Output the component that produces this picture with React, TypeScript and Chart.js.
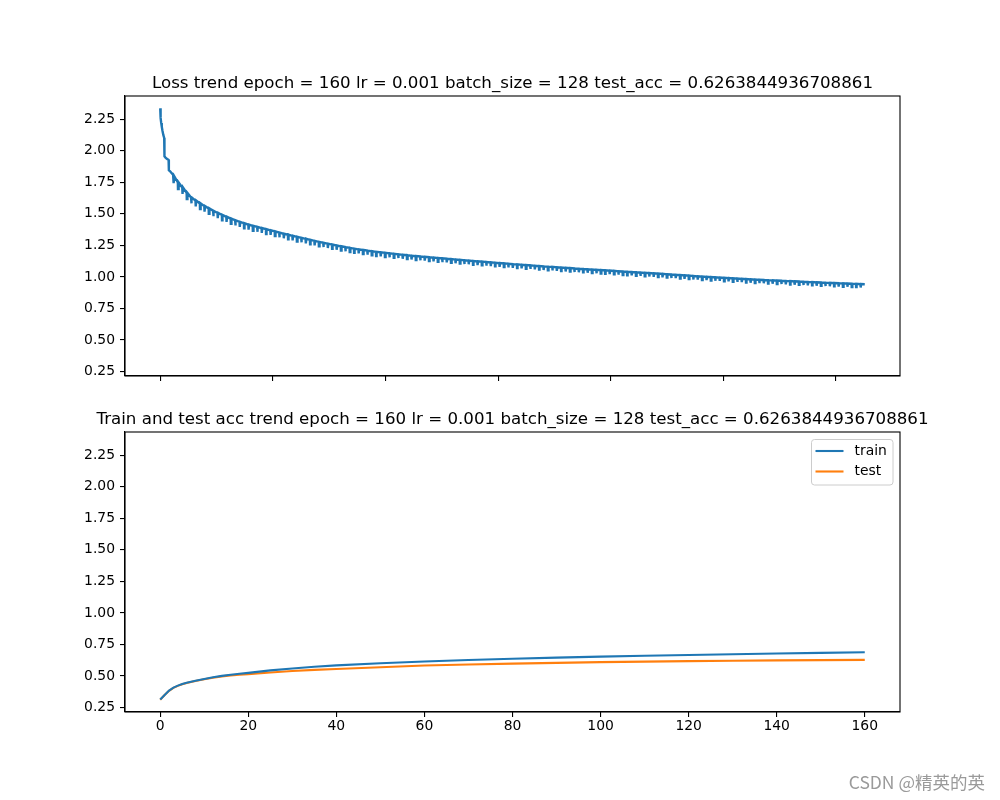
import React, { useEffect, useRef } from "react";
import { Chart, registerables } from "chart.js";

Chart.register(...registerables);

const FONT = "'DejaVu Sans', sans-serif";
const BLUE = "#1f77b4";
const ORANGE = "#ff7f0e";

const titleSuffix = "epoch = 160 lr = 0.001 batch_size = 128 test_acc = 0.6263844936708861";
const lossTitle = "Loss trend " + titleSuffix;
const accTitle = "Train and test acc trend " + titleSuffix;

const batchesPerEpoch = 391;
const totalEpochs = 160;

// first epochs (running-average staircase), x in epochs
const warmupEpochs = [0, 0.05, 0.12, 0.22, 0.35, 0.5, 0.7, 0.9, 0.96, 1.2, 1.5, 1.9, 1.96, 2.3, 2.6, 2.92];
const warmupLoss = [2.335, 2.3, 2.26, 2.22, 2.19, 2.16, 2.125, 2.1, 1.955, 1.945, 1.935, 1.926, 1.845, 1.835, 1.822, 1.81];

// loss level at each epoch boundary, epochs 3..160
const lossFirstEpoch = 3;
const lossLevel = [
  1.798, 1.748, 1.708, 1.665, 1.63, 1.604, 1.582,
  1.561, 1.542, 1.524, 1.507, 1.491, 1.476, 1.462, 1.449, 1.436, 1.425,
  1.415, 1.405, 1.396, 1.387, 1.378, 1.369, 1.36, 1.351, 1.342, 1.334,
  1.325, 1.317, 1.309, 1.301, 1.293, 1.285, 1.277, 1.27, 1.263, 1.256,
  1.249, 1.242, 1.236, 1.23, 1.224, 1.218, 1.213, 1.208, 1.203, 1.198,
  1.194, 1.19, 1.186, 1.182, 1.179, 1.175, 1.172, 1.168, 1.165, 1.162,
  1.159, 1.156, 1.153, 1.15, 1.147, 1.144, 1.141, 1.138, 1.135, 1.132,
  1.129, 1.126, 1.123, 1.121, 1.118, 1.115, 1.112, 1.109, 1.107, 1.104,
  1.101, 1.099, 1.096, 1.093, 1.091, 1.088, 1.086, 1.083, 1.081, 1.079,
  1.076, 1.074, 1.072, 1.07, 1.067, 1.065, 1.063, 1.061, 1.058, 1.056,
  1.054, 1.052, 1.05, 1.048, 1.045, 1.043, 1.041, 1.039, 1.037, 1.035,
  1.032, 1.03, 1.028, 1.026, 1.024, 1.021, 1.019, 1.017, 1.014, 1.012,
  1.01, 1.007, 1.005, 1.003, 1.001, 0.999, 0.997, 0.995, 0.993, 0.991,
  0.989, 0.987, 0.985, 0.983, 0.981, 0.979, 0.977, 0.976, 0.974, 0.973,
  0.971, 0.97, 0.968, 0.967, 0.965, 0.964, 0.962, 0.96, 0.959, 0.957,
  0.956, 0.954, 0.953, 0.951, 0.95, 0.949, 0.947, 0.946, 0.945, 0.943,
  0.942,
];

// depth of the short dip at the start of each epoch, epochs 3..159
const lossDipDepth = [
  0.055, 0.052, 0.05, 0.049, 0.047, 0.046, 0.045,
  0.044, 0.043, 0.043, 0.042, 0.042, 0.041, 0.041, 0.041, 0.04, 0.04,
  0.04, 0.039, 0.039, 0.038, 0.038, 0.037, 0.037, 0.037, 0.036, 0.036,
  0.036, 0.036, 0.035, 0.035, 0.035, 0.035, 0.034, 0.034, 0.034, 0.034,
  0.034, 0.033, 0.033, 0.033, 0.033, 0.032, 0.032, 0.032, 0.032, 0.032,
  0.031, 0.032, 0.031, 0.031, 0.03, 0.031, 0.031, 0.03, 0.031, 0.03,
  0.03, 0.031, 0.03, 0.03, 0.03, 0.029, 0.03, 0.03, 0.029, 0.03,
  0.029, 0.03, 0.029, 0.029, 0.029, 0.03, 0.029, 0.029, 0.028, 0.029,
  0.029, 0.028, 0.029, 0.029, 0.028, 0.029, 0.028, 0.028, 0.029, 0.028,
  0.028, 0.028, 0.029, 0.028, 0.028, 0.028, 0.027, 0.028, 0.028, 0.028,
  0.028, 0.027, 0.028, 0.028, 0.027, 0.028, 0.028, 0.027, 0.028, 0.027,
  0.028, 0.027, 0.027, 0.028, 0.027, 0.027, 0.028, 0.027, 0.027, 0.027,
  0.027, 0.028, 0.027, 0.027, 0.027, 0.027, 0.028, 0.027, 0.027, 0.027,
  0.027, 0.027, 0.026, 0.027, 0.027, 0.027, 0.027, 0.026, 0.027, 0.027,
  0.027, 0.026, 0.027, 0.027, 0.027, 0.026, 0.027, 0.027, 0.026, 0.027,
  0.027, 0.026, 0.027, 0.026, 0.027, 0.027, 0.026, 0.027, 0.026, 0.027,
];

const accEpochs = [0, 1, 2, 3, 4, 5, 6, 8, 10, 12, 14, 16, 18, 20, 25, 30, 35, 40, 50, 60, 70, 80, 90, 100, 110, 120, 130, 140, 150, 160];
const trainAcc = [0.314, 0.35, 0.385, 0.408, 0.424, 0.437, 0.447, 0.463, 0.477, 0.49, 0.501, 0.51, 0.518, 0.525, 0.545, 0.56, 0.573, 0.584, 0.601, 0.615, 0.627, 0.637, 0.646, 0.654, 0.661, 0.667, 0.673, 0.678, 0.683, 0.688];
const testAcc = [0.312, 0.349, 0.383, 0.406, 0.422, 0.435, 0.445, 0.461, 0.475, 0.487, 0.497, 0.505, 0.51, 0.515, 0.528, 0.54, 0.549, 0.556, 0.569, 0.583, 0.591, 0.598, 0.604, 0.61, 0.614, 0.618, 0.621, 0.624, 0.626, 0.628];

const yTickValues = [0.25, 0.5, 0.75, 1.0, 1.25, 1.5, 1.75, 2.0, 2.25];
const topXTickValues = [0, 10000, 20000, 30000, 40000, 50000, 60000];
const bottomXTickValues = [0, 20, 40, 60, 80, 100, 120, 140, 160];

const Y_MIN = 0.215;
const Y_MAX = 2.433;

function buildLossPoints() {
  const pts: { x: number; y: number }[] = [];
  warmupEpochs.forEach((e, i) => pts.push({ x: e * batchesPerEpoch, y: warmupLoss[i] }));
  lossLevel.forEach((v, i) => {
    const ep = lossFirstEpoch + i;
    pts.push({ x: ep * batchesPerEpoch, y: v });
    if (i < lossDipDepth.length) {
      const low = v - lossDipDepth[i];
      pts.push({ x: (ep + 0.03) * batchesPerEpoch, y: low });
      pts.push({ x: (ep + 0.1) * batchesPerEpoch, y: low });
      pts.push({ x: (ep + 0.18) * batchesPerEpoch, y: v });
    }
  });
  return pts;
}

function framePlugin(title: string, extra?: (chart: any) => void) {
  return {
    id: "frameTitle",
    afterDraw(chart: any) {
      const { ctx, chartArea: a } = chart;
      ctx.save();
      ctx.strokeStyle = "#000";
      ctx.lineWidth = 1.1;
      ctx.strokeRect(a.left, a.top, a.right - a.left, a.bottom - a.top);
      ctx.fillStyle = "#000";
      ctx.font = `16.67px ${FONT}`;
      ctx.textAlign = "center";
      ctx.textBaseline = "alphabetic";
      ctx.fillText(title, (a.left + a.right) / 2, a.top - 8.3);
      ctx.restore();
      if (extra) extra(chart);
    },
  };
}

function yScale() {
  return {
    type: "linear" as const,
    min: Y_MIN,
    max: Y_MAX,
    afterBuildTicks: (s: any) => {
      s.ticks = yTickValues.map((v) => ({ value: v }));
    },
    afterFit: (s: any) => {
      s.width = 125;
    },
    ticks: {
      callback: (v: any) => Number(v).toFixed(2),
      font: { family: FONT, size: 13.9 },
      color: "#000",
      padding: 5,
    },
    grid: { display: true, drawOnChartArea: false, drawTicks: true, tickLength: 5, color: "#000", lineWidth: 1.1 },
    border: { display: true, color: "#000", width: 1.1 },
  };
}

export default function App() {
  const topRef = useRef<HTMLCanvasElement>(null);
  const botRef = useRef<HTMLCanvasElement>(null);

  useEffect(() => {
    const nLast = totalEpochs * batchesPerEpoch;
    const topChart = new Chart(topRef.current!, {
      type: "line",
      data: {
        datasets: [
          {
            data: buildLossPoints(),
            borderColor: BLUE,
            borderWidth: 2.4,
            pointRadius: 0,
            tension: 0,
            fill: false,
          },
        ],
      },
      options: {
        animation: false,
        responsive: false,
        maintainAspectRatio: false,
        layout: { padding: { left: 0, right: 100, top: 96, bottom: 0 } },
        plugins: { legend: { display: false }, tooltip: { enabled: false }, title: { display: false } },
        scales: {
          x: {
            type: "linear",
            min: -0.05 * nLast,
            max: 1.05 * nLast,
            afterBuildTicks: (s: any) => {
              s.ticks = topXTickValues.map((v) => ({ value: v }));
            },
            afterFit: (s: any) => {
              s.height = 24;
            },
            ticks: { callback: () => "", font: { family: FONT, size: 13.9 } },
            grid: { display: true, drawOnChartArea: false, drawTicks: true, tickLength: 5, color: "#000", lineWidth: 1.1 },
            border: { display: true, color: "#000", width: 1.1 },
          },
          y: yScale(),
        },
      },
      plugins: [framePlugin(lossTitle)],
    } as any);

    const legendAndMark = (chart: any) => {
      const ctx = chart.ctx;
      const off = 400;
      ctx.save();
      const bx = 811.5, by = 439.5 - off, bw = 81.5, bh = 45.5, r = 3;
      ctx.beginPath();
      ctx.moveTo(bx + r, by);
      ctx.lineTo(bx + bw - r, by);
      ctx.quadraticCurveTo(bx + bw, by, bx + bw, by + r);
      ctx.lineTo(bx + bw, by + bh - r);
      ctx.quadraticCurveTo(bx + bw, by + bh, bx + bw - r, by + bh);
      ctx.lineTo(bx + r, by + bh);
      ctx.quadraticCurveTo(bx, by + bh, bx, by + bh - r);
      ctx.lineTo(bx, by + r);
      ctx.quadraticCurveTo(bx, by, bx + r, by);
      ctx.closePath();
      ctx.fillStyle = "rgba(255,255,255,0.8)";
      ctx.fill();
      ctx.strokeStyle = "#cccccc";
      ctx.lineWidth = 1;
      ctx.stroke();
      const items = [
        { label: "train", color: BLUE, y: 451 - off },
        { label: "test", color: ORANGE, y: 471.5 - off },
      ];
      ctx.font = `13.9px ${FONT}`;
      ctx.textAlign = "left";
      ctx.textBaseline = "middle";
      items.forEach((it) => {
        ctx.strokeStyle = it.color;
        ctx.lineWidth = 2.1;
        ctx.beginPath();
        ctx.moveTo(815.5, it.y);
        ctx.lineTo(843.5, it.y);
        ctx.stroke();
        ctx.fillStyle = "#000";
        ctx.fillText(it.label, 854.5, it.y);
      });
      ctx.font = `17.5px 'Noto Sans CJK SC', sans-serif`;
      ctx.fillStyle = "#9a9a9a";
      ctx.textAlign = "right";
      ctx.textBaseline = "middle";
      ctx.fillText("CSDN @精英的英", 985, 782 - off);
      ctx.restore();
    };

    const botChart = new Chart(botRef.current!, {
      type: "line",
      data: {
        datasets: [
          {
            label: "train",
            data: accEpochs.map((e, i) => ({ x: e, y: trainAcc[i] })),
            borderColor: BLUE,
            borderWidth: 2.1,
            pointRadius: 0,
            tension: 0,
            fill: false,
          },
          {
            label: "test",
            data: accEpochs.map((e, i) => ({ x: e, y: testAcc[i] })),
            borderColor: ORANGE,
            borderWidth: 2.1,
            pointRadius: 0,
            tension: 0,
            fill: false,
          },
        ],
      },
      options: {
        animation: false,
        responsive: false,
        maintainAspectRatio: false,
        layout: { padding: { left: 0, right: 100, top: 32, bottom: 0 } },
        plugins: { legend: { display: false }, tooltip: { enabled: false }, title: { display: false } },
        scales: {
          x: {
            type: "linear",
            min: -8,
            max: 168,
            afterBuildTicks: (s: any) => {
              s.ticks = bottomXTickValues.map((v) => ({ value: v }));
            },
            afterFit: (s: any) => {
              s.height = 88;
            },
            ticks: {
              callback: (v: any) => String(v),
              font: { family: FONT, size: 13.9 },
              color: "#000",
              padding: 1,
              maxRotation: 0,
              autoSkip: false,
            },
            grid: { display: true, drawOnChartArea: false, drawTicks: true, tickLength: 5, color: "#000", lineWidth: 1.1 },
            border: { display: true, color: "#000", width: 1.1 },
          },
          y: yScale(),
        },
      },
      plugins: [framePlugin(accTitle, legendAndMark)],
    } as any);

    return () => {
      topChart.destroy();
      botChart.destroy();
    };
  }, []);

  return (
    <div style={{ position: "absolute", left: 0, top: 0, width: 1000, height: 800, background: "#fff" }}>
      <canvas
        ref={topRef}
        width={1000}
        height={400}
        style={{ position: "absolute", left: 0, top: 0, width: 1000, height: 400 }}
      />
      <canvas
        ref={botRef}
        width={1000}
        height={400}
        style={{ position: "absolute", left: 0, top: 400, width: 1000, height: 400 }}
      />
    </div>
  );
}
